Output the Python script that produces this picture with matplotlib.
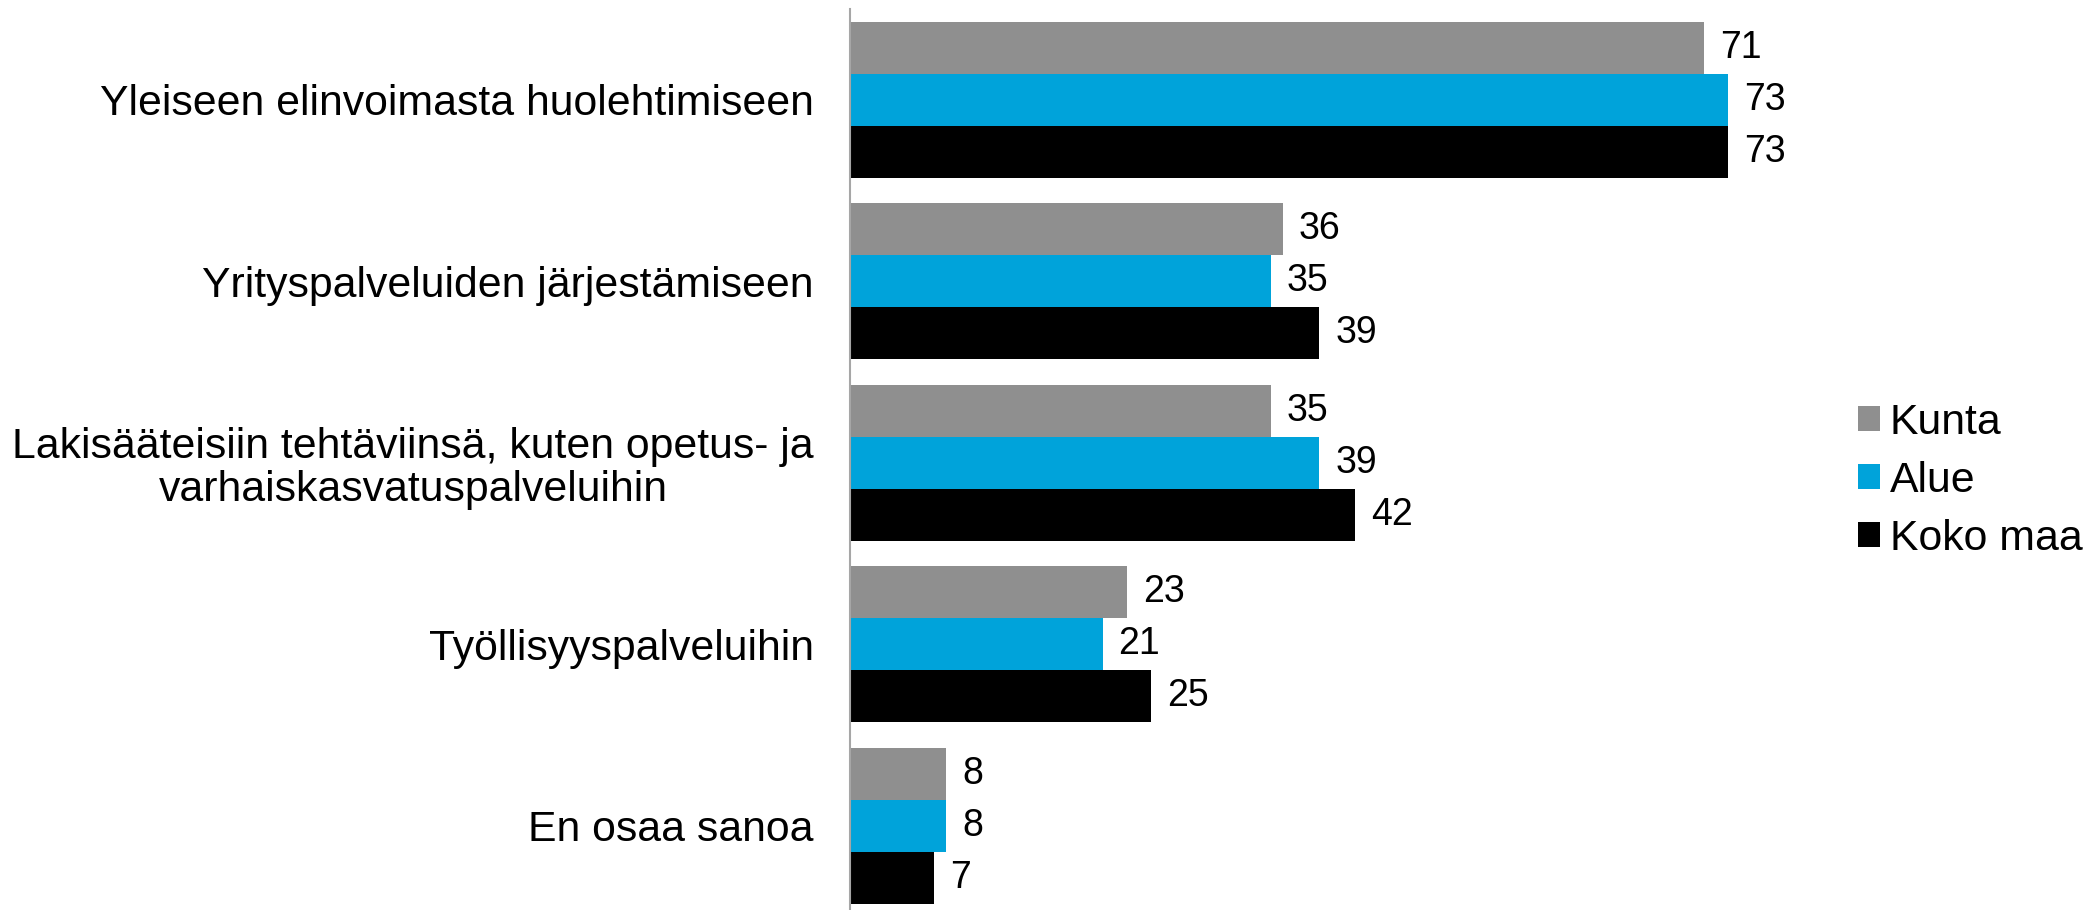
import matplotlib
matplotlib.use("Agg")
import matplotlib.pyplot as plt
import numpy as np
from matplotlib.patches import Patch

plt.rcParams['font.family'] = ['Liberation Sans', 'DejaVu Sans']

categories = [
    "Yleiseen elinvoimasta huolehtimiseen",
    "Yrityspalveluiden järjestämiseen",
    "Lakisääteisiin tehtäviinsä, kuten opetus- ja\nvarhaiskasvatuspalveluihin",
    "Työllisyyspalveluihin",
    "En osaa sanoa",
]
series_names = ["Kunta", "Alue", "Koko maa"]
kunta = [71, 36, 35, 23, 8]
alue = [73, 35, 39, 21, 8]
koko_maa = [73, 39, 42, 25, 7]
colors = ["#8F8F8F", "#00A3DA", "#000000"]

W, H = 2083, 910
fig = plt.figure(figsize=(W / 100, H / 100), dpi=100)
left, right = 850 / W, 1850 / W
top, bottom = 1 - 9 / H, 0.0
ax = fig.add_axes([left, bottom, right - left, top - bottom])

fs = 30.8
fs_val = 27
bh = 0.2865
y = np.arange(len(categories))
for k, (vals, col) in enumerate(zip([kunta, alue, koko_maa], colors)):
    pos = y + (k - 1) * bh
    ax.barh(pos, vals, height=bh, color=col, edgecolor='none')
    for p, v in zip(pos, vals):
        ax.annotate(str(v), xy=(v, p), xytext=(11.5, 0), textcoords='offset points',
                    ha='left', va='center', fontsize=fs_val, color='black')

ax.set_xlim(0, 1000 / 12.03)
ax.set_ylim(4.465, -0.5)
ax.set_yticks(y)
ax.set_yticklabels(categories, fontsize=fs, multialignment='center', linespacing=1.1)
ax.tick_params(axis='y', length=0, pad=26)
ax.set_xticks([])
for s in ['top', 'right', 'bottom']:
    ax.spines[s].set_visible(False)
ax.spines['left'].set_color('#A6A6A6')
ax.spines['left'].set_linewidth(1.5)

handles = [Patch(facecolor=c, edgecolor='none') for c in colors]
fig.legend(handles, series_names, loc='center left', bbox_to_anchor=(1858 / W, 1 - 481 / H),
           frameon=False, fontsize=fs, handlelength=0.52, handleheight=0.52,
           handletextpad=0.22, labelspacing=0.42, borderpad=0, borderaxespad=0)

fig.savefig("out.png", dpi=100)
